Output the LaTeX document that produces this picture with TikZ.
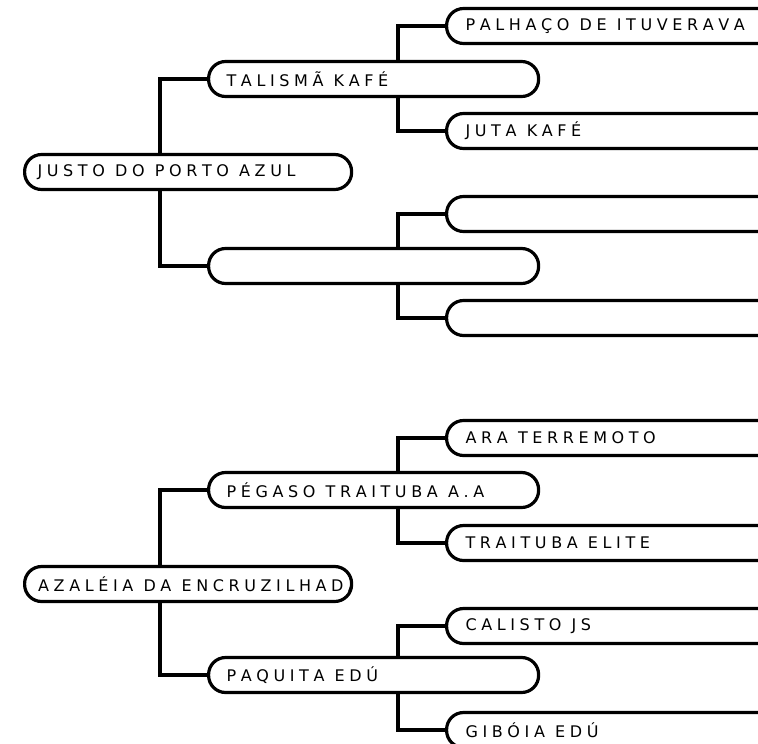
\documentclass[tikz,border=0pt]{standalone}
\usepackage{fontspec}
\setmainfont{DejaVu Sans}
\newcommand\boxfont{\fontsize{16}{19}\selectfont}
\newcommand\lstrack{4.6pt}
\newcommand\lsword{5.6pt}
\ExplSyntaxOn
\NewDocumentCommand\ls{m}{
  \seq_set_split:Nnn \l_tmpa_seq {~} {#1}
  \seq_map_indexed_inline:Nn \l_tmpa_seq
    { \int_compare:nNnT {##1} > {1} { \hspace{\lsword} }
      \tl_map_inline:nn {##2} { ####1 \kern\lstrack } }
}
\ExplSyntaxOff
\begin{document}
\begin{tikzpicture}[x=1pt,y=-1pt,
  box/.style={draw, line width=3.2pt, fill=white, rectangle, rounded corners=17pt,
    minimum height=35pt, inner ysep=0pt, align=left, anchor=west,
    font=\boxfont},
  rootbox/.style={box, inner xsep=13pt, text width=301pt},
  kidbox/.style={box, inner xsep=18pt, text width=294pt},
  leafbox/.style={box, inner xsep=19pt, text width=302pt},
  conn/.style={line width=3.2pt}]
\clip (0,0) rectangle (758,744);
% upper tree
\node[rootbox] (r1) at (23,172) {\ls{JUSTO DO PORTO AZUL}};
\node[kidbox] (c1) at (207,79) {\ls{TALISMÃ KAFÉ}};
\node[kidbox] (c2) at (207,266) {};
\node[leafbox] (g11) at (445,26) {\ls{PALHAÇO DE ITUVERAVA}};
\node[leafbox] (g12) at (445,131) {\ls{JUTA KAFÉ}};
\node[leafbox] (g21) at (445,214) {};
\node[leafbox] (g22) at (445,318) {};
\draw[conn] ([xshift=137pt]r1.north west) |- (c1.west);
\draw[conn] ([xshift=137pt]r1.south west) |- (c2.west);
\draw[conn] ([xshift=191pt]c1.north west) |- (g11.west);
\draw[conn] ([xshift=191pt]c1.south west) |- (g12.west);
\draw[conn] ([xshift=191pt]c2.north west) |- (g21.west);
\draw[conn] ([xshift=191pt]c2.south west) |- (g22.west);
% lower tree
\node[rootbox, path picture={\node[anchor=west, inner sep=0pt, font=\boxfont]
   (t2) at ([xshift=12pt]path picture bounding box.west) {\mbox{\ls{AZALÉIA DA ENCRUZILHADA}}};}]
   (r2) at (23,584) {};
\node[kidbox] (c3) at (207,490) {\ls{PÉGASO TRAITUBA A.A}};
\node[kidbox] (c4) at (207,675) {\ls{PAQUITA EDÚ}};
\node[leafbox] (g31) at (445,438) {\ls{ARA TERREMOTO}};
\node[leafbox] (g32) at (445,543) {\ls{TRAITUBA ELITE}};
\node[leafbox] (g41) at (445,626) {\ls{CALISTO JS}};
\node[leafbox] (g42) at (445,730) {\ls{GIBÓIA EDÚ}};
\draw[conn] ([xshift=137pt]r2.north west) |- (c3.west);
\draw[conn] ([xshift=137pt]r2.south west) |- (c4.west);
\draw[conn] ([xshift=191pt]c3.north west) |- (g31.west);
\draw[conn] ([xshift=191pt]c3.south west) |- (g32.west);
\draw[conn] ([xshift=191pt]c4.north west) |- (g41.west);
\draw[conn] ([xshift=191pt]c4.south west) |- (g42.west);
\end{tikzpicture}
\end{document}
